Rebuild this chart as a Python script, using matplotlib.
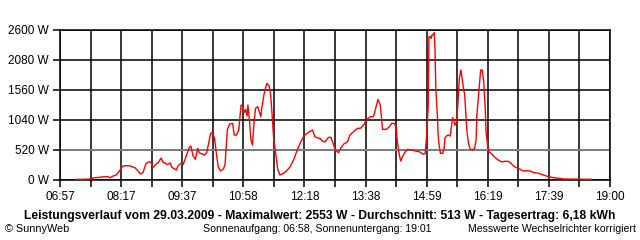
import numpy as np
import matplotlib
matplotlib.use('Agg')
import matplotlib.pyplot as plt

# time of day in minutes since midnight, power in W
minute_of_day = [437, 456, 462, 470, 474, 480, 483, 487, 491, 495, 499, 502, 508, 512, 516, 520,
                 523, 526, 530, 534, 537, 539, 543, 546, 550, 552, 555, 558, 562, 564, 570, 572,
                 576, 579, 587, 589, 592, 595, 598, 600, 607, 610, 615, 617, 620, 623, 625, 628,
                 632, 634, 637, 640, 644, 646, 649, 652, 655, 657, 659, 661, 663, 664, 666, 668,
                 670, 672, 674, 677, 679, 681, 682, 685, 687, 689, 692, 694, 696, 698, 700, 703,
                 706, 711, 715, 719, 724, 728, 733, 737, 740, 745, 749, 752, 757, 759, 761, 765,
                 770, 773, 776, 779, 783, 786, 790, 795, 798, 803, 808, 812, 817, 820, 825, 829,
                 832, 835, 838, 840, 841, 846, 850, 853, 856, 859, 860, 862, 864, 865, 867, 871,
                 874, 885, 889, 895, 897, 898, 899, 901, 902, 904, 905, 906, 908, 909, 910, 911,
                 913, 914, 915, 917, 920, 922, 923, 925, 927, 930, 931, 933, 935, 936, 938, 939,
                 940, 941, 942, 944, 945, 947, 949, 950, 952, 954, 956, 959, 962, 964, 965, 967,
                 969, 970, 972, 974, 976, 977, 979, 981, 985, 989, 993, 998, 1001, 1006, 1010, 1013,
                 1017, 1022, 1026, 1030, 1035, 1039, 1046, 1050, 1059, 1066, 1072, 1079, 1116]
power_w = [10, 15, 40, 47, 57, 57, 40, 70, 87, 155, 234, 248, 248, 230, 208, 150,
           104, 127, 283, 317, 295, 213, 272, 300, 381, 312, 295, 266, 295, 220, 173, 243,
           290, 272, 567, 590, 416, 359, 549, 473, 433, 480, 809, 820, 733, 416, 230, 156,
           196, 277, 878, 970, 982, 780, 780, 867, 1300, 1280, 1167, 1225, 1109, 1300, 1040, 693,
           607, 982, 1243, 1271, 1184, 1097, 1225, 1473, 1589, 1676, 1629, 1460, 1097, 693, 520, 202,
           87, 116, 162, 220, 347, 491, 647, 751, 791, 838, 867, 751, 722, 722, 682, 659,
           740, 740, 636, 520, 474, 549, 624, 664, 780, 838, 896, 896, 970, 1051, 1097, 1097,
           1243, 1398, 1300, 1011, 878, 878, 924, 982, 982, 924, 722, 520, 376, 329, 404, 491,
           532, 503, 491, 445, 460, 607, 780, 1271, 2484, 2484, 2456, 2513, 2525, 2553, 2224, 1600,
           1127, 809, 636, 462, 462, 549, 722, 763, 780, 763, 867, 1080, 1011, 953, 1000, 1138,
           1300, 1531, 1763, 1907, 1820, 1618, 1473, 1243, 838, 636, 537, 520, 549, 693, 1127, 1444,
           1763, 1907, 1907, 1705, 1243, 849, 607, 491, 445, 387, 347, 312, 324, 324, 289, 243,
           214, 185, 156, 162, 156, 133, 116, 98, 58, 40, 29, 17, 12]

x_labels = ['06:57', '08:17', '09:37', '10:58', '12:18', '13:38', '14:59', '16:19', '17:39', '19:00']
y_ticks = [0, 520, 1040, 1560, 2080, 2600]
start_min = 6 * 60 + 57
end_min = 19 * 60
average_w = 513

title = ('Leistungsverlauf vom 29.03.2009 - Maximalwert: 2553 W - '
         'Durchschnitt: 513 W - Tagesertrag: 6,18 kWh')

plt.rcParams['font.family'] = ['Liberation Sans', 'DejaVu Sans']

fig = plt.figure(figsize=(6.4, 2.4), dpi=100)
ax = fig.add_axes([60 / 640, 60 / 240, 550 / 640, 150 / 240])

major = np.linspace(start_min, end_min, len(x_labels))
minor = np.linspace(start_min, end_min, 2 * len(x_labels) - 1)

for m in minor:
    ax.axvline(m, color='black', lw=1.1, zorder=1)
for v in y_ticks:
    ax.axhline(v, color='black', lw=1.1, zorder=1)
ax.axhline(average_w, color='#808080', lw=1.4, zorder=2)

ax.plot(minute_of_day, power_w, color='#ff0000', lw=1.0, zorder=3)

ax.set_xlim(start_min, end_min)
ax.set_ylim(0, 2600)
ax.set_xticks(major)
ax.set_xticklabels(x_labels, fontsize=8.5)
ax.set_xticks(minor, minor=True)
ax.set_yticks(y_ticks)
ax.set_yticklabels([f'{v} W' for v in y_ticks], fontsize=8.5)
ax.tick_params(axis='both', which='both', length=5, width=1.1, color='black', pad=3)

for s in ax.spines.values():
    s.set_linewidth(1.1)

fig.text(320 / 640, 1 - 216 / 240, title, ha='center', va='center', fontsize=8.75, fontweight='bold')
fig.text(5 / 640, 1 - 229 / 240, '© SunnyWeb', ha='left', va='center', fontsize=7.8)
fig.text(203 / 640, 1 - 229 / 240, 'Sonnenaufgang: 06:58, Sonnenuntergang: 19:01',
         ha='left', va='center', fontsize=7.6)
fig.text(636 / 640, 1 - 229 / 240, 'Messwerte Wechselrichter korrigiert',
         ha='right', va='center', fontsize=7.6)

fig.savefig('out.png', dpi=100)
